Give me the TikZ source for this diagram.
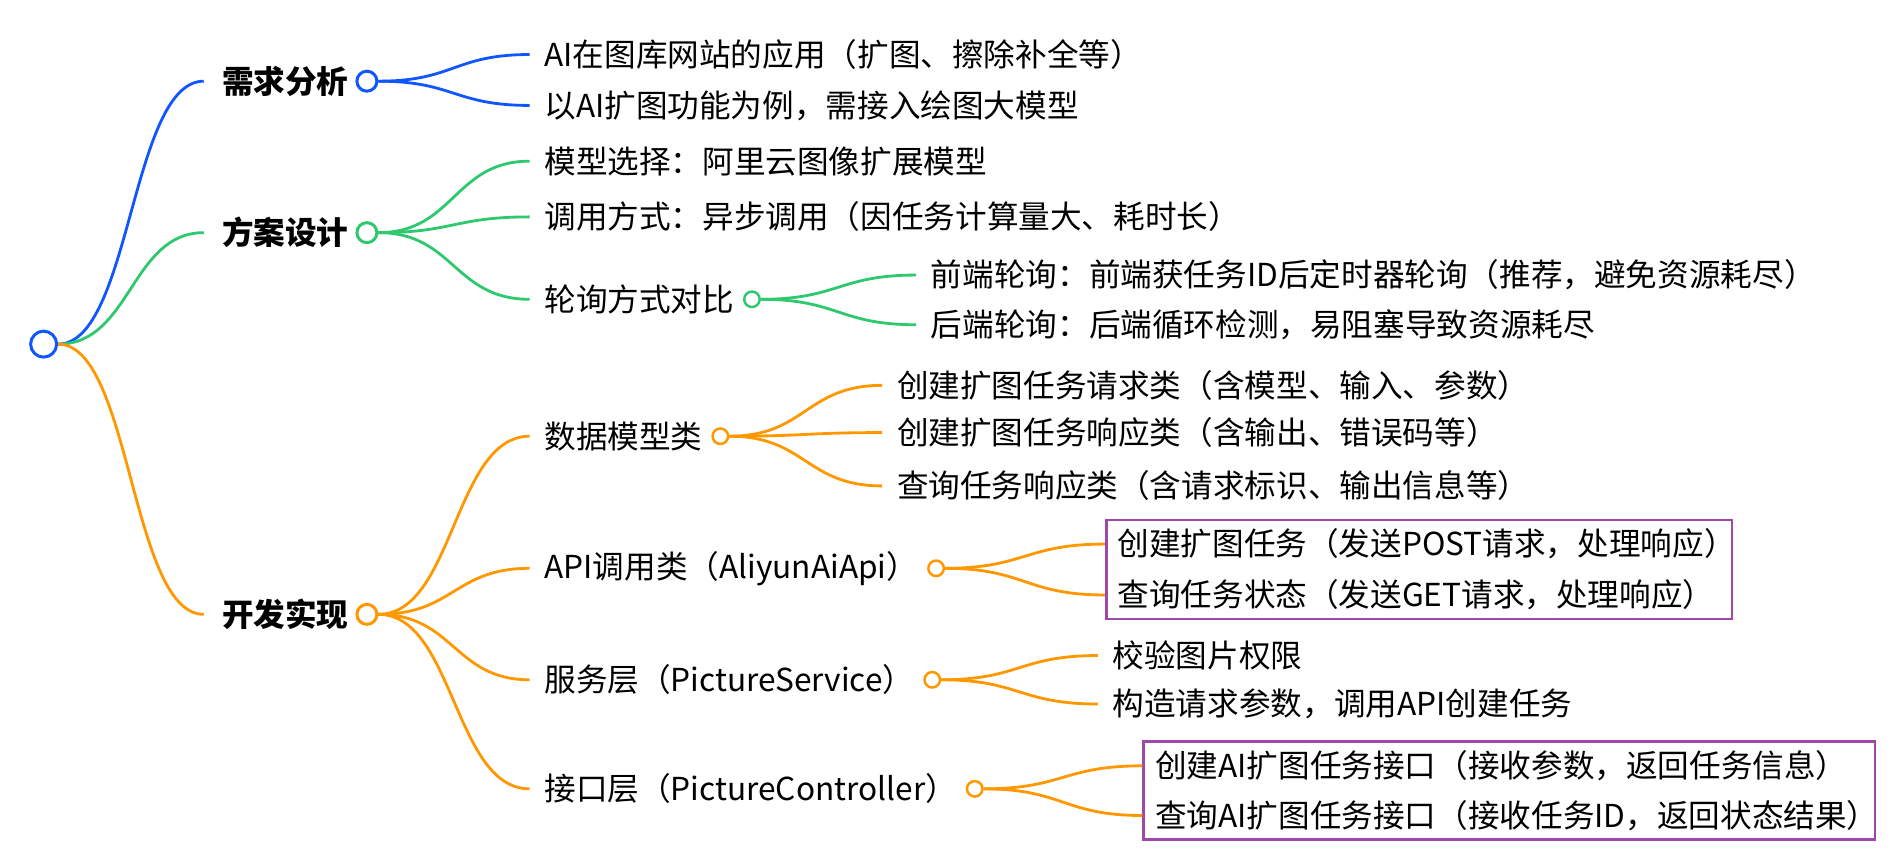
\documentclass[tikz,border=0pt]{standalone}
\usepackage{fontspec}
\setmainfont{Noto Sans CJK SC}
\usetikzlibrary{positioning, calc, fit}
\definecolor{mapblue}{RGB}{16, 86, 255}
\definecolor{mapgreen}{RGB}{46, 200, 110}
\definecolor{maporange}{RGB}{255, 152, 0}
\definecolor{boxviolet}{RGB}{160, 72, 170}

\begin{document}
\begin{tikzpicture}[
  x=0.02424cm, y=-0.02424cm,
  every node/.style={font=\fontsize{18pt}{21pt}\selectfont},
  topic/.style={anchor=west, inner sep=0pt, font=\fontsize{18pt}{21pt}\selectfont\bfseries},
  item/.style={anchor=west, inner sep=0pt},
  knob/.style={circle, draw, fill=white, line width=1.7pt, minimum size=0.4cm, inner sep=0pt},
  subknob/.style={knob, line width=1.4pt, minimum size=0.31cm},
  link/.style={line width=1.6pt, to path={let \p1=(\tikztostart), \p2=(\tikztotarget) in
               .. controls ({0.5*\x1+0.5*\x2},\y1) and ({0.5*\x1+0.5*\x2},\y2) .. (\tikztotarget)}},
  callbox/.style={draw=boxviolet, line width=1.5pt, inner xsep=0.22cm, inner ysep=0.17cm},
]
\useasboundingbox (0,0) rectangle (1568,715);

% root
\node[knob, draw=mapblue, minimum size=0.52cm] (root) at (36,284) {};

% 需求分析
\node[topic] (need) at (183,67) {需求分析};
\node[knob, draw=mapblue, right=0.13cm of need] (needk) {};
\node[item] (need1) at (449,45) {AI在图库网站的应用（扩图、擦除补全等）};
\node[item] (need2) at (449,87) {以AI扩图功能为例，需接入绘图大模型};
\draw[link, mapblue] (root.east) to ([xshift=-0.36cm]need.west);
\draw[link, mapblue] (needk.east) to ([xshift=-0.29cm]need1.west);
\draw[link, mapblue] (needk.east) to ([xshift=-0.29cm]need2.west);

% 方案设计
\node[topic] (plan) at (183,192) {方案设计};
\node[knob, draw=mapgreen, right=0.13cm of plan] (plank) {};
\node[item] (plan1) at (449,133) {模型选择：阿里云图像扩展模型};
\node[item] (plan2) at (449,179) {调用方式：异步调用（因任务计算量大、耗时长）};
\node[item] (plan3) at (449,247) {轮询方式对比};
\node[subknob, draw=mapgreen, right=0.17cm of plan3] (plan3k) {};
\node[item] (poll1) at (768,227) {前端轮询：前端获任务ID后定时器轮询（推荐，避免资源耗尽）};
\node[item] (poll2) at (768,268) {后端轮询：后端循环检测，易阻塞导致资源耗尽};
\draw[link, mapgreen] (root.east) to ([xshift=-0.36cm]plan.west);
\draw[link, mapgreen] (plank.east) to ([xshift=-0.29cm]plan1.west);
\draw[link, mapgreen] (plank.east) to ([xshift=-0.29cm]plan2.west);
\draw[link, mapgreen] (plank.east) to ([xshift=-0.29cm]plan3.west);
\draw[link, mapgreen] (plan3k.east) to ([xshift=-0.29cm]poll1.west);
\draw[link, mapgreen] (plan3k.east) to ([xshift=-0.29cm]poll2.west);

% 开发实现
\node[topic] (dev) at (183,507) {开发实现};
\node[knob, draw=maporange, right=0.13cm of dev] (devk) {};
\draw[link, maporange] (root.east) to ([xshift=-0.36cm]dev.west);

% data classes
\node[item] (model) at (449,360) {数据模型类};
\node[subknob, draw=maporange, right=0.17cm of model] (modelk) {};
\node[item] (model1) at (740,318) {创建扩图任务请求类（含模型、输入、参数）};
\node[item] (model2) at (740,357) {创建扩图任务响应类（含输出、错误码等）};
\node[item] (model3) at (740,401) {查询任务响应类（含请求标识、输出信息等）};
\draw[link, maporange] (devk.east) to ([xshift=-0.29cm]model.west);
\draw[link, maporange] (modelk.east) to ([xshift=-0.29cm]model1.west);
\draw[link, maporange] (modelk.east) to ([xshift=-0.29cm]model2.west);
\draw[link, maporange] (modelk.east) to ([xshift=-0.29cm]model3.west);

% api class
\node[item] (api) at (449,469) {API调用类（AliyunAiApi）};
\node[subknob, draw=maporange, right=0.17cm of api] (apik) {};
\node[item] (api1) at (922,449) {创建扩图任务（发送POST请求，处理响应）};
\node[item] (api2) at (922,491) {查询任务状态（发送GET请求，处理响应）};
\node[callbox, fit={(api1.north west) ([xshift=-0.3cm]api1.south east) (api2.south west)}] (apibox) {};
\draw[link, maporange] (devk.east) to ([xshift=-0.29cm]api.west);
\draw[link, maporange] (apik.east) to (apibox.west |- api1);
\draw[link, maporange] (apik.east) to (apibox.west |- api2);

% service layer
\node[item] (svc) at (449,561) {服务层（PictureService）};
\node[subknob, draw=maporange, right=0.17cm of svc] (svck) {};
\node[item] (svc1) at (918,541) {校验图片权限};
\node[item] (svc2) at (918,581) {构造请求参数，调用API创建任务};
\draw[link, maporange] (devk.east) to ([xshift=-0.29cm]svc.west);
\draw[link, maporange] (svck.east) to ([xshift=-0.29cm]svc1.west);
\draw[link, maporange] (svck.east) to ([xshift=-0.29cm]svc2.west);

% controller layer
\node[item] (ctl) at (449,651) {接口层（PictureController）};
\node[subknob, draw=maporange, right=0.17cm of ctl] (ctlk) {};
\node[item] (ctl1) at (953,632) {创建AI扩图任务接口（接收参数，返回任务信息）};
\node[item] (ctl2) at (953,673) {查询AI扩图任务接口（接收任务ID，返回状态结果）};
\node[callbox, fit={(ctl1.north west) (ctl2.south west) ([xshift=-0.3cm]ctl2.south east)}] (ctlbox) {};
\draw[link, maporange] (devk.east) to ([xshift=-0.29cm]ctl.west);
\draw[link, maporange] (ctlk.east) to (ctlbox.west |- ctl1);
\draw[link, maporange] (ctlk.east) to (ctlbox.west |- ctl2);
\end{tikzpicture}
\end{document}
